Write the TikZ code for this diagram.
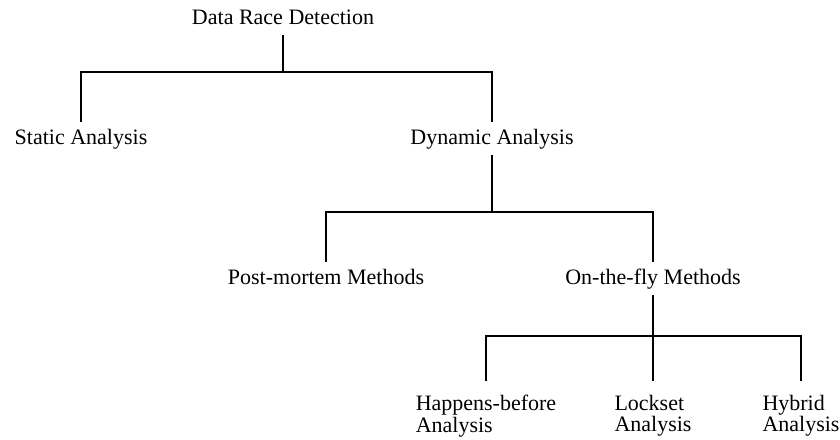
\documentclass[tikz,border=0pt]{standalone}
\usepackage{fontspec}
\setmainfont{Liberation Serif}
\begin{document}
\begin{tikzpicture}[x=1pt,y=-1pt,
  lbl/.style={font=\fontsize{22}{22}\selectfont, inner xsep=0pt, inner ysep=6pt, text height=16pt, text depth=5pt, anchor=base},
  leaf/.style={font=\fontsize{22}{21.5}\selectfont, align=left, inner xsep=0pt, inner ysep=14pt, anchor=north},
  conn/.style={line width=1.2pt}]
\useasboundingbox (0,0) rectangle (840,439);
\node[lbl] (root) at (283,24) {Data Race Detection};
\node[lbl] (static) at (81,144) {Static Analysis};
\node[lbl] (dynamic) at (492,144) {Dynamic Analysis};
\node[lbl] (post) at (326,284) {Post-mortem Methods};
\node[lbl] (onfly) at (653,284) {On-the-fly Methods};
\node[leaf] (hb) at (486,381) {Happens-before\\Analysis};
\node[leaf] (lock) at (653,381) {Lockset\\Analysis};
\node[leaf] (hyb) at (801,381) {Hybrid\\Analysis};
\coordinate (j1) at (283,72);
\coordinate (j2) at (492,212);
\coordinate (j3) at (653,336);
\draw[conn] (root.south) -- (j1);
\draw[conn] (static.north) |- (j1) -| (dynamic.north);
\draw[conn] (dynamic.south) -- (j2);
\draw[conn] (post.north) |- (j2) -| (onfly.north);
\draw[conn] (onfly.south) -- (lock.north);
\draw[conn] (hb.north) |- (j3) -| (hyb.north);
\end{tikzpicture}
\end{document}
